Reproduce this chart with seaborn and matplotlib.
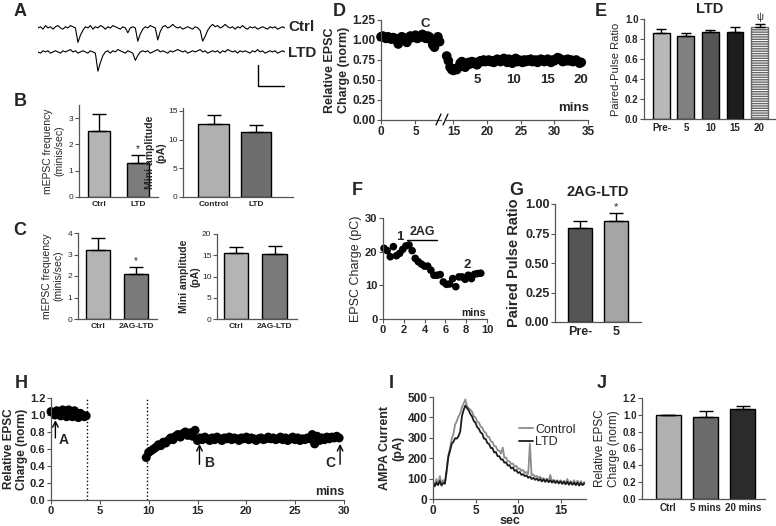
import numpy as np
import pandas as pd
import matplotlib
matplotlib.use('Agg')
import matplotlib.pyplot as plt
from matplotlib.lines import Line2D
import seaborn as sns

# ## Dados
# A - traços de mEPSC (pA, unidade arbitrária)
trace_ctrl = [0, 1, -1, 2, 0, 1, -1, 1, 2, 0, -1, 1, 0, 2, 1, 0,
              -12, -6, -2, 1, 0, 2, -1, 1, 0, 2, 1, -1, 1, 0, 2, 1, 0, -1, 1, 0, -4, 0, 1, 0,
              -11, -5, -1, 1, 0, 2, 1, 0, -10, -3, 1, 2, 0, 1, 3, 1, 0, 1, -1, 0, 1, 0, -1, 1, 0, -2,
              -11, -7, -2, 1, 3, 1, 2, 0, 1, 3, 1, 0, 1, -1, 1, 0, 2, 0, -1, 1, 0, 1, -1, 0, 1, 0,
              -1, 1, 0, 1, -1, 0, 1, 0]
trace_ltd = [0, -1, 1, 0, 1, -1, 0, 1, 0, -1, 1, 0, 1, 2, 0, 1, -1, 0, 1, 0, -1, 1, 0, -1,
             -16, -9, -3, 0, 1, -1, 1, 0, 2, 1, 0, -1, 1, 0, -1, -7, -3, 0, 1, 0, 1, -1, 0, 1, 2, 0,
             1, 0, -1, 1, 0, 1, 2, 1, 0, 1, -1, 0, 1, 0, 1, 2, 0, 1, -1, 0, 1, 0, 1, -1, 1, 0, 2, 1,
             0, 1, -1, 1, 0, 1, 0, -1, 1, 0, 2, 0, 1, -1, 0, 1, 0, 1, -1, 0, 1, 0]

# B
b_freq_cats = ['Ctrl', 'LTD']
b_freq_vals = [2.52, 1.30]
b_freq_errs = [3.15, 1.60]
b_amp_cats = ['Control', 'LTD']
b_amp_vals = [12.8, 11.3]
b_amp_errs = [14.3, 12.5]

# C
c_freq_cats = ['Ctrl', '2AG-LTD']
c_freq_vals = [3.2, 2.1]
c_freq_errs = [3.75, 2.42]
c_amp_cats = ['Ctrl', '2AG-LTD']
c_amp_vals = [15.5, 15.3]
c_amp_errs = [16.9, 17.1]

# D - carga relativa (amostras a cada 0.25 min)
d_pre_start, d_post_start, d_step = 0.0, 14.0, 0.25
d_pre = [1.04, 1.05, 1.03, 1.02, 1.04, 1.03, 1.01, 1.03, 1.02, 1.00, 0.95, 1.02, 1.04, 1.03,
         1.00, 0.97, 1.02, 1.05, 1.03, 1.04, 1.06, 1.02, 1.03, 1.05, 1.07, 1.04, 1.02, 1.05,
         1.04, 1.00, 0.94, 0.91, 0.97, 1.04, 0.98]
d_post = [0.80, 0.74, 0.66, 0.63, 0.62, 0.64, 0.63, 0.66, 0.71, 0.73, 0.70, 0.66, 0.69, 0.72,
          0.70, 0.73, 0.71, 0.72, 0.69, 0.72, 0.74, 0.73, 0.75, 0.73, 0.74, 0.75, 0.73, 0.74,
          0.72, 0.74, 0.76, 0.75, 0.73, 0.75, 0.77, 0.74, 0.72, 0.76, 0.74, 0.71, 0.75, 0.77,
          0.73, 0.75, 0.74, 0.72, 0.75, 0.73, 0.75, 0.74, 0.76, 0.73, 0.74, 0.75, 0.72, 0.74,
          0.76, 0.75, 0.73, 0.74, 0.76, 0.74, 0.72, 0.75, 0.74, 0.76, 0.78, 0.77, 0.75, 0.73,
          0.75, 0.74, 0.76, 0.74, 0.75, 0.73, 0.74, 0.75, 0.73, 0.71, 0.72]

# E
e_cats = ['Pre-', '5', '10', '15', '20']
e_vals = [0.86, 0.83, 0.87, 0.87, 0.92]
e_errs = [0.90, 0.86, 0.89, 0.92, 0.95]

# F
f_t = [0.1, 0.4, 0.7, 1.0, 1.3, 1.6, 1.9, 2.2, 2.5, 2.8, 3.1, 3.4, 3.7, 4.0, 4.3, 4.6,
       4.9, 5.2, 5.5, 5.8, 6.1, 6.4, 6.7, 7.0, 7.3, 7.6, 7.9, 8.2, 8.5, 8.8, 9.1, 9.4]
f_q = [21, 20.3, 18.5, 21.5, 18.8, 19.5, 20.7, 21.7, 22, 20.3, 18, 17, 16.3, 15.7, 15.7, 14.5,
       13, 13, 13.2, 11, 10.3, 10.4, 12, 9.6, 12.5, 12.5, 11.8, 13, 12, 13.3, 13.5, 13.6]

# G
g_cats = ['Pre-', '5']
g_vals = [0.80, 0.855]
g_errs = [0.86, 0.92]

# H
h_pre_start, h_pre_step = 0.0, 0.2
h_pre = [1.04, 1.03, 1.00, 1.05, 1.01, 0.99, 1.06, 1.00, 0.98, 1.06, 1.02, 0.98, 1.05, 1.01,
         0.97, 1.02, 1.00, 0.98, 0.99]
h_post_start, h_post_step = 9.75, 0.25
h_post = [0.50, 0.56, 0.58, 0.60, 0.62, 0.65, 0.64, 0.68, 0.67, 0.70, 0.73, 0.71, 0.75, 0.77,
          0.74, 0.78, 0.80, 0.76, 0.79, 0.75, 0.82, 0.70, 0.73, 0.71, 0.74, 0.72, 0.70, 0.73,
          0.71, 0.74, 0.72, 0.70, 0.73, 0.72, 0.74, 0.71, 0.73, 0.72, 0.70, 0.73, 0.72, 0.74,
          0.71, 0.73, 0.72, 0.70, 0.72, 0.73, 0.71, 0.72, 0.74, 0.72, 0.73, 0.71, 0.72, 0.74,
          0.71, 0.73, 0.70, 0.72, 0.74, 0.71, 0.73, 0.70, 0.72, 0.71, 0.73, 0.72, 0.77, 0.66,
          0.75, 0.70, 0.73, 0.71, 0.74, 0.72, 0.74, 0.73, 0.75, 0.73]
h_lines = [3.7, 9.8]

# I - corrente AMPA (amostras a cada 0.2 s)
i_step = 0.2
i_control = [85, 68, 98, 72, 112, 78, 92, 74, 130, 215,
             248, 295, 318, 365, 382, 405, 418, 450, 468, 488,
             455, 445, 438, 428, 405, 400, 380, 375, 355, 350,
             330, 326, 305, 304, 282, 280, 260, 258, 238, 238,
             222, 252, 202, 203, 186, 184, 172, 174, 158, 163,
             148, 150, 138, 142, 128, 132, 122, 270, 116, 120,
             108, 114, 102, 110, 97, 102, 94, 100, 88, 118,
             86, 94, 85, 92, 82, 92, 80, 90, 78, 98,
             76, 88, 74, 92, 72, 90, 70, 88, 72, 84]
i_ltd = [82, 62, 80, 68, 88, 66, 78, 76, 140, 205,
         236, 270, 280, 298, 296, 308, 330, 405, 436, 458,
         446, 434, 416, 404, 382, 374, 352, 344, 326, 320,
         296, 294, 274, 270, 250, 250, 228, 230, 210, 210,
         194, 194, 178, 180, 164, 166, 150, 154, 138, 142,
         128, 132, 118, 122, 112, 116, 104, 110, 98, 104,
         94, 100, 90, 98, 86, 96, 84, 94, 82, 92,
         80, 90, 78, 88, 76, 86, 74, 84, 72, 84,
         70, 82, 70, 80, 68, 80, 66, 78, 68, 76]

# J
j_cats = ['Ctrl', '5 mins', '20 mins']
j_vals = [1.0, 0.98, 1.07]
j_errs = [1.0, 1.05, 1.10]

# ## Estilo
sns.set_style('ticks')
plt.rcParams['font.family'] = ['Liberation Sans', 'DejaVu Sans']
plt.rcParams['axes.linewidth'] = 0.9

W, H = 776, 526
fig = plt.figure(figsize=(W / 100, H / 100), dpi=100)


def box(l, t, r, b):
    return fig.add_axes([l / W, 1 - b / H, (r - l) / W, (b - t) / H])


def style(ax, fs, bold=True, xticks=True):
    for s in ['top', 'right']:
        ax.spines[s].set_visible(False)
    for s in ['left', 'bottom']:
        ax.spines[s].set_color('#555555')
    ax.tick_params(labelsize=fs, length=3, width=0.8, color='#555555', pad=1)
    if not xticks:
        ax.tick_params(axis='x', length=0, pad=3)
    if bold:
        for lab in ax.get_xticklabels() + ax.get_yticklabels():
            lab.set_fontweight('bold')


def bars(ax, cats, vals, errs, colors, width, xlim, cap):
    sns.barplot(x=cats, y=vals, hue=cats, palette=colors, legend=False, width=width,
                edgecolor='black', linewidth=1, saturation=1, ax=ax)
    vals = np.array(vals)
    up = np.array(errs) - vals
    ax.errorbar(range(len(cats)), vals, yerr=[np.zeros(len(vals)), up], fmt='none',
                ecolor='black', elinewidth=1, capsize=cap, capthick=1)
    ax.set_xlim(*xlim)


def letter(x, y, s):
    fig.text(x / W, 1 - y / H, s, fontsize=13, fontweight='bold', ha='center', va='center')


# ## A
ax = box(38, 15, 285, 90)
sns.lineplot(x=np.arange(len(trace_ctrl)), y=trace_ctrl, color='black', linewidth=0.8, ax=ax)
sns.lineplot(x=np.arange(len(trace_ltd)), y=np.array(trace_ltd) - 20, color='black',
             linewidth=0.8, ax=ax)
ax.plot([88, 88, 98.5], [-31, -48, -48], color='black', linewidth=1)
ax.set_xlim(0, len(trace_ctrl) - 1)
ax.set_ylim(-51.7, 10.8)
ax.axis('off')
fig.text(288 / W, 1 - 27 / H, 'Ctrl', fontsize=11, fontweight='bold', va='center')
fig.text(288 / W, 1 - 53 / H, 'LTD', fontsize=11, fontweight='bold', va='center')
letter(20, 11, 'A')

# ## B
ax = box(79, 105, 158, 197)
bars(ax, b_freq_cats, b_freq_vals, b_freq_errs, ['#b4b4b4', '#7c7c7c'], 0.58, (-0.51, 1.51), 5)
ax.text(1, b_freq_errs[1] + 0.05, '*', ha='center', va='bottom', fontsize=7)
ax.set_ylim(0, 3.5)
ax.set_yticks([0, 1, 2, 3])
ax.set_ylabel('mEPSC frequency\n(minis/sec)', fontsize=7.5, labelpad=3)
style(ax, 6, xticks=False)
for lab in ax.get_yticklabels():
    lab.set_fontweight('normal')

ax = box(183, 108, 293, 197)
bars(ax, b_amp_cats, b_amp_vals, b_amp_errs, ['#b0b0b0', '#6e6e6e'], 0.72, (-0.72, 1.87), 5)
ax.set_ylim(0, 15.5)
ax.set_yticks([0, 5, 10, 15])
ax.set_ylabel('Mini amplitude\n(pA)', fontsize=7.5, fontweight='bold', labelpad=1)
style(ax, 6, xticks=False)
for lab in ax.get_yticklabels():
    lab.set_fontweight('normal')
letter(20, 101, 'B')

# ## C
ax = box(78, 233, 157, 319)
bars(ax, c_freq_cats, c_freq_vals, c_freq_errs, ['#b4b4b4', '#7a7a7a'], 0.64, (-0.53, 1.55), 5)
ax.text(1, c_freq_errs[1] + 0.05, '*', ha='center', va='bottom', fontsize=7)
ax.set_ylim(0, 4)
ax.set_yticks([0, 1, 2, 3, 4])
ax.set_ylabel('mEPSC frequency\n(minis/sec)', fontsize=7.5, labelpad=3)
style(ax, 6, xticks=False)
for lab in ax.get_yticklabels():
    lab.set_fontweight('normal')

ax = box(217, 234, 297, 319)
bars(ax, c_amp_cats, c_amp_vals, c_amp_errs, ['#b4b4b4', '#7a7a7a'], 0.64, (-0.49, 1.58), 5)
ax.set_ylim(0, 20)
ax.set_yticks([0, 5, 10, 15, 20])
ax.set_ylabel('Mini amplitude\n(pA)', fontsize=7.5, fontweight='bold', labelpad=1)
style(ax, 6, xticks=False)
for lab in ax.get_yticklabels():
    lab.set_fontweight('normal')
letter(20, 230, 'C')

# ## D (eixo quebrado)
axL = box(381, 20, 441, 120)
axR = box(446, 20, 588, 120)
t_pre = d_pre_start + d_step * np.arange(len(d_pre))
t_post = d_post_start + d_step * np.arange(len(d_post))
sns.scatterplot(x=t_pre, y=d_pre, color='black', s=48, edgecolor='none', ax=axL, clip_on=False)
sns.scatterplot(x=t_post, y=d_post, color='black', s=48, edgecolor='none', ax=axR, clip_on=False)
axL.set_xlim(0, 8.7)
axR.set_xlim(13.9, 35)
for a in (axL, axR):
    a.set_ylim(0, 1.25)
axL.set_yticks([0, 0.25, 0.5, 0.75, 1.0, 1.25])
axL.set_yticklabels(['0.00', '0.25', '0.50', '0.75', '1.00', '1.25'])
axL.set_xticks([0, 5])
axR.set_xticks([15, 20, 25, 30, 35])
axR.set_yticks([])
axL.set_ylabel('Relative EPSC\nCharge (norm)', fontsize=9, fontweight='bold', labelpad=2)
style(axL, 8.5)
style(axR, 8.5)
axR.spines['left'].set_visible(False)
axL.text(6.4, 1.2, 'C', fontsize=9.5, fontweight='bold', ha='center', va='center')
for xx, s in zip([18.5, 24.0, 29.0, 34.0], ['5', '10', '15', '20']):
    axR.text(xx, 0.5, s, fontsize=9.5, fontweight='bold', ha='center', va='center')
axR.text(32.8, 0.15, 'mins', fontsize=9.5, fontweight='bold', ha='center', va='center')
for x0 in (436, 443):
    fig.add_artist(Line2D([x0 / W, (x0 + 5) / W], [1 - 125 / H, 1 - 114 / H],
                          color='black', linewidth=0.9))
letter(339, 11, 'D')

# ## E
ax = box(644, 19, 775, 119)
bars(ax, e_cats, e_vals, e_errs, ['#b8b8b8', '#808080', '#555555', '#1e1e1e', 'white'],
     0.69, (-0.71, 4.63), 3.5)
ax.patches[4].set_hatch('-------')
ax.patches[4].set_edgecolor('#666666')
ax.text(4, e_errs[4] + 0.02, 'ψ', ha='center', va='bottom', fontsize=7, clip_on=False)
ax.set_ylim(0, 1.0)
ax.set_yticks([0, 0.2, 0.4, 0.6, 0.8, 1.0])
ax.set_ylabel('Paired-Pulse Ratio', fontsize=8, labelpad=3)
ax.set_title('LTD', fontsize=10.5, fontweight='bold', pad=4)
style(ax, 7, xticks=False)
letter(601, 11, 'E')

# ## F
ax = box(383, 218, 487, 319)
sns.scatterplot(x=f_t, y=f_q, color='black', s=30, edgecolor='none', ax=ax, clip_on=False)
ax.set_xlim(0, 10)
ax.set_ylim(0, 30)
ax.set_xticks([0, 2, 4, 6, 8, 10])
ax.set_yticks([0, 10, 20, 30])
ax.set_ylabel('EPSC Charge (pC)', fontsize=9, labelpad=2)
ax.plot([2.3, 5.2], [23.6, 23.6], color='black', linewidth=1)
ax.text(3.75, 24.2, '2AG', fontsize=9, fontweight='bold', ha='center', va='bottom')
ax.text(1.6, 24.3, '1', fontsize=9.5, fontweight='bold', ha='center', va='center')
ax.text(8.1, 15.9, '2', fontsize=9.5, fontweight='bold', ha='center', va='center')
ax.text(8.7, 1.8, 'mins', fontsize=7.5, fontweight='bold', ha='center', va='center')
style(ax, 8)
letter(357, 191, 'F')

# ## G
ax = box(555, 204, 641, 322)
bars(ax, g_cats, g_vals, g_errs, ['#555555', '#a5a5a5'], 0.67, (-0.69, 1.69), 5)
ax.text(1, g_errs[1] + 0.01, '*', ha='center', va='bottom', fontsize=8)
ax.set_ylim(0, 1.0)
ax.set_yticks([0, 0.25, 0.5, 0.75, 1.0])
ax.set_yticklabels(['0.00', '0.25', '0.50', '0.75', '1.00'])
ax.set_ylabel('Paired Pulse Ratio', fontsize=10.5, fontweight='bold', labelpad=3)
ax.set_title('2AG-LTD', fontsize=10.5, fontweight='bold', pad=6)
style(ax, 9, xticks=False)
letter(516, 191, 'G')

# ## H
ax = box(51, 398, 344, 500)
t_hpre = h_pre_start + h_pre_step * np.arange(len(h_pre))
t_hpost = h_post_start + h_post_step * np.arange(len(h_post))
sns.scatterplot(x=t_hpre, y=h_pre, color='black', s=42, edgecolor='none', ax=ax, clip_on=False)
sns.scatterplot(x=t_hpost, y=h_post, color='black', s=42, edgecolor='none', ax=ax, clip_on=False)
for xv in h_lines:
    ax.axvline(xv, color='black', linestyle=':', linewidth=1)
ax.set_xlim(0, 30)
ax.set_ylim(0, 1.2)
ax.set_xticks([0, 5, 10, 15, 20, 25, 30])
ax.set_yticks([0, 0.2, 0.4, 0.6, 0.8, 1.0, 1.2])
ax.set_ylabel('Relative EPSC\nCharge (norm)', fontsize=8.5, fontweight='bold', labelpad=1)
arrow = dict(arrowstyle='->', color='black', linewidth=1, shrinkA=0, shrinkB=0)
ax.annotate('', xy=(0.45, 0.94), xytext=(0.45, 0.73), arrowprops=arrow)
ax.annotate('', xy=(15.2, 0.66), xytext=(15.2, 0.42), arrowprops=arrow)
ax.annotate('', xy=(29.6, 0.66), xytext=(29.6, 0.42), arrowprops=arrow)
ax.text(1.3, 0.7, 'A', fontsize=10, fontweight='bold', ha='center', va='center')
ax.text(16.2, 0.44, 'B', fontsize=10, fontweight='bold', ha='center', va='center')
ax.text(28.6, 0.44, 'C', fontsize=10, fontweight='bold', ha='center', va='center')
ax.text(28.5, 0.09, 'mins', fontsize=9, fontweight='bold', ha='center', va='center')
style(ax, 8)
letter(21, 384, 'H')

# ## I
ax = box(433, 397, 586, 499)
t_i = i_step * np.arange(len(i_control))
sns.lineplot(x=t_i, y=i_control, color='#8c8c8c', linewidth=1.3, label='Control', ax=ax)
sns.lineplot(x=t_i, y=i_ltd, color='#1a1a1a', linewidth=1.3, label='LTD', ax=ax)
ax.set_xlim(0, 18)
ax.set_ylim(0, 500)
ax.set_xticks([0, 5, 10, 15])
ax.set_yticks([0, 100, 200, 300, 400, 500])
ax.set_xlabel('sec', fontsize=9, fontweight='bold', labelpad=-1)
ax.set_ylabel('AMPA Current\n(pA)', fontsize=9, fontweight='bold', labelpad=2)
ax.legend(frameon=False, loc='upper left', bbox_to_anchor=(0.52, 0.8), fontsize=9,
          handlelength=1.1, handletextpad=0.2, labelspacing=0.05, borderpad=0)
style(ax, 8.5)
letter(391, 384, 'I')

# ## J
ax = box(642, 398, 765, 499)
bars(ax, j_cats, j_vals, j_errs, ['#b0b0b0', '#6b6b6b', '#2b2b2b'], 0.67, (-0.71, 2.6), 5)
ax.set_ylim(0, 1.2)
ax.set_yticks([0, 0.2, 0.4, 0.6, 0.8, 1.0, 1.2])
ax.set_ylabel('Relative EPSC\nCharge (norm)', fontsize=8.5, labelpad=2)
style(ax, 7, xticks=False)
letter(602, 384, 'J')

fig.savefig('out.png', dpi=100)
